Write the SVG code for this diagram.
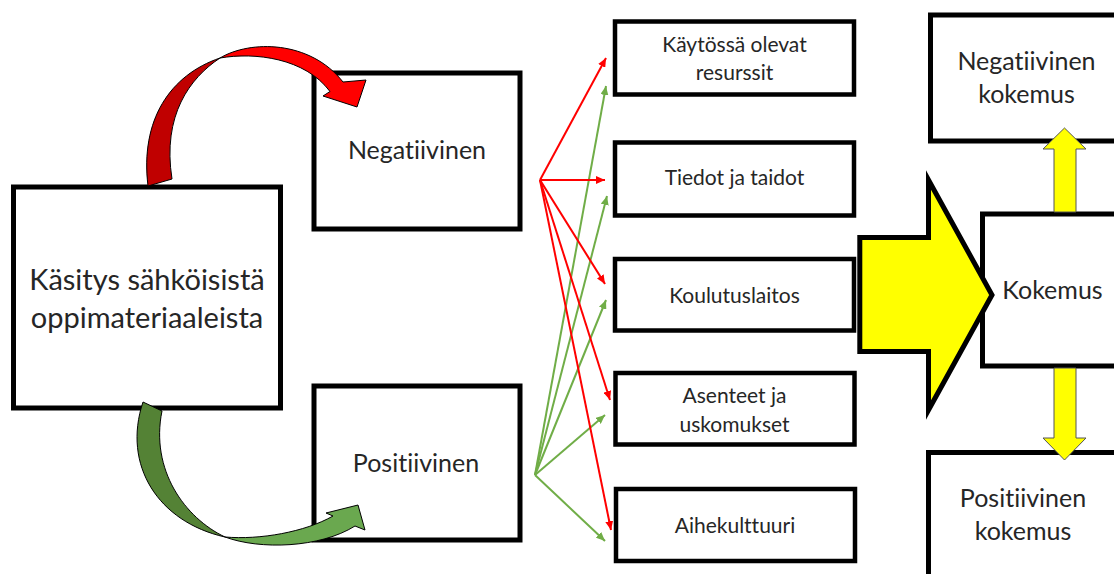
<svg xmlns="http://www.w3.org/2000/svg" width="1114" height="574" viewBox="0 0 1114 574">
  <style>
    .box { fill: #ffffff; stroke: #000000; stroke-width: 5; }
    .mid { fill: #ffffff; stroke: #000000; stroke-width: 4.5; }
    .lbl { font-family: Lato, "Open Sans", sans-serif; fill: #262626; text-anchor: middle; font-variant-ligatures: none; font-feature-settings: "liga" 0, "clig" 0; }
    .big { font-size: 29px; }
    .med { font-size: 25px; }
    .sml { font-size: 21px; }
    .red { stroke: #ff0000; stroke-width: 2; fill: none; marker-end: url(#headRed); }
    .grn { stroke: #70ad47; stroke-width: 2; fill: none; marker-end: url(#headGreen); }
    .edge { stroke: #000000; stroke-width: 1; stroke-linejoin: round; }
    .yel { fill: #ffff00; }
  </style>
  <defs>
    <marker id="headRed" markerUnits="userSpaceOnUse" markerWidth="10" markerHeight="8" refX="9" refY="4" orient="auto">
      <path d="M0,0 L9,4 L0,8 Z" fill="#ff0000"/>
    </marker>
    <marker id="headGreen" markerUnits="userSpaceOnUse" markerWidth="10" markerHeight="8" refX="9" refY="4" orient="auto">
      <path d="M0,0 L9,4 L0,8 Z" fill="#70ad47"/>
    </marker>
  </defs>

  <rect width="1114" height="574" fill="#ffffff"/>

  <!-- left: main concept -->
  <g id="kasitys">
    <rect class="box" x="13.5" y="187" width="267" height="221"/>
    <text class="lbl big" x="147" y="290">Käsitys sähköisistä</text>
    <text class="lbl big" x="147" y="328">oppimateriaaleista</text>
  </g>

  <g id="negatiivinen">
    <rect class="box" x="314" y="73" width="206" height="156"/>
    <text class="lbl med" x="417" y="159">Negatiivinen</text>
  </g>

  <g id="positiivinen">
    <rect class="box" x="314" y="386" width="206" height="154"/>
    <text class="lbl med" x="416" y="472">Positiivinen</text>
  </g>

  <!-- middle: factors -->
  <g id="resurssit">
    <rect class="mid" x="615" y="21.5" width="239" height="73"/>
    <text class="lbl sml" x="734.5" y="52">Käytössä olevat</text>
    <text class="lbl sml" x="734.5" y="80">resurssit</text>
  </g>
  <g id="tiedot">
    <rect class="mid" x="615" y="142.5" width="239" height="73"/>
    <text class="lbl sml" x="734.5" y="185">Tiedot ja taidot</text>
  </g>
  <g id="koulutuslaitos">
    <rect class="mid" x="615" y="259" width="239" height="71.5"/>
    <text class="lbl sml" x="734.5" y="303">Koulutuslaitos</text>
  </g>
  <g id="asenteet">
    <rect class="mid" x="615.5" y="373" width="239" height="71.5"/>
    <text class="lbl sml" x="734.5" y="403">Asenteet ja</text>
    <text class="lbl sml" x="734.5" y="432">uskomukset</text>
  </g>
  <g id="aihekulttuuri">
    <rect class="mid" x="616" y="489" width="239" height="72"/>
    <text class="lbl sml" x="735" y="533">Aihekulttuuri</text>
  </g>

  <!-- right: experience -->
  <g id="negatiivinen-kokemus">
    <rect class="box" x="930.5" y="15" width="200" height="126"/>
    <text class="lbl med" x="1026.5" y="70">Negatiivinen</text>
    <text class="lbl med" x="1026.5" y="103">kokemus</text>
  </g>
  <g id="kokemus">
    <rect class="box" x="982.5" y="214" width="150" height="152"/>
    <text class="lbl med" x="1052.5" y="299">Kokemus</text>
  </g>
  <g id="positiivinen-kokemus">
    <rect class="box" x="928.5" y="452.5" width="200" height="140"/>
    <text class="lbl med" x="1023" y="507">Positiivinen</text>
    <text class="lbl med" x="1023" y="540">kokemus</text>
  </g>

  <g id="connectors">
    <!-- curved arrow to the negative branch -->
    <path d="M148,186 C140,120 170,75 220,58 C190,78 162,115 172,179 Z" fill="#c00000" class="edge"/>
    <path d="M220,58 C250,40 310,40 343,82 L366,80 L357,107 L323,96 L330,91.5 C305,58 255,52 220,58 Z" fill="#ff0000" class="edge"/>

    <!-- curved arrow to the positive branch -->
    <path d="M143,402 C122,465 158,522 225,537 C185,518 150,470 162,411 Z" fill="#548235" class="edge"/>
    <path d="M225,537 C260,550 320,548 355,526 L365,530 L358,505 L326,513 L333,516 C305,532 260,540 225,537 Z" fill="#6aa84f" class="edge"/>

    <!-- fan from the positive branch -->
    <line class="grn" x1="535" y1="475" x2="606" y2="86"/>
    <line class="grn" x1="535" y1="475" x2="607" y2="196"/>
    <line class="grn" x1="535" y1="475" x2="606" y2="300"/>
    <line class="grn" x1="535" y1="475" x2="605" y2="415"/>
    <line class="grn" x1="535" y1="475" x2="605" y2="541"/>

    <!-- fan from the negative branch -->
    <line class="red" x1="540" y1="180" x2="606" y2="58"/>
    <line class="red" x1="540" y1="180" x2="605" y2="180"/>
    <line class="red" x1="540" y1="180" x2="605" y2="284"/>
    <line class="red" x1="540" y1="180" x2="610" y2="400"/>
    <line class="red" x1="540" y1="180" x2="611" y2="530"/>

    <!-- block arrow into the experience -->
    <path d="M859.8,237.5 L928.5,237.5 L928.5,180 L992,295 L928.5,410 L928.5,351.5 L859.8,351.5 Z" class="yel" stroke="#000000" stroke-width="5" stroke-miterlimit="10"/>

    <!-- up / down arrows -->
    <path d="M1054,212 L1054,149 L1043,149 L1064.5,128 L1086,149 L1076,149 L1076,212 Z" class="yel" stroke="#555555" stroke-width="1"/>
    <path d="M1054,368 L1054,438 L1043,438 L1064.5,460 L1086,438 L1076,438 L1076,368 Z" class="yel" stroke="#555555" stroke-width="1"/>
  </g>
</svg>
